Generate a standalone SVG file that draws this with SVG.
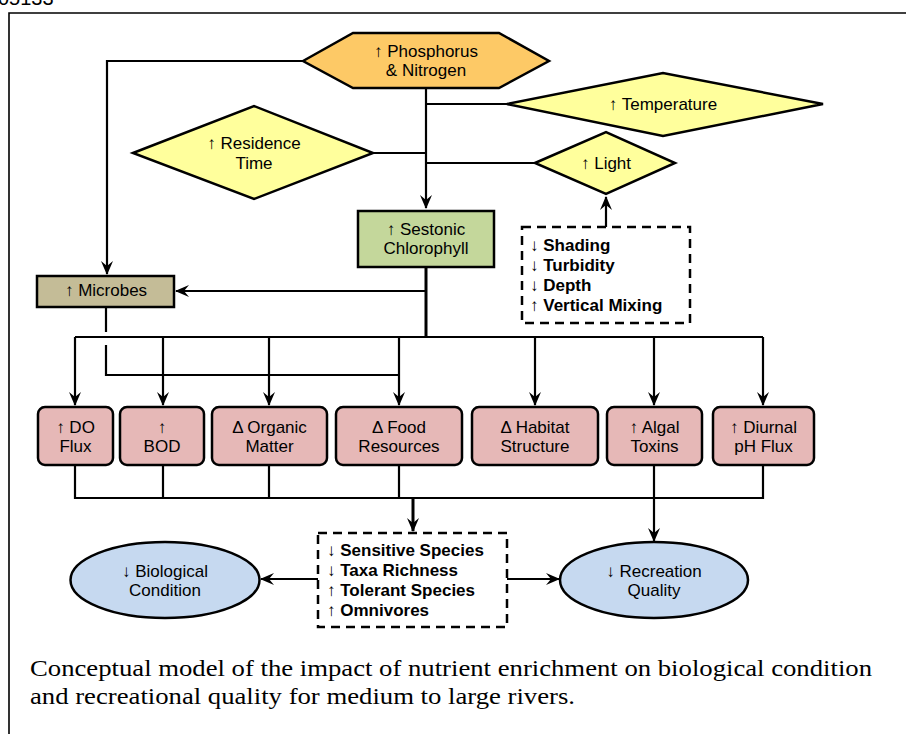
<svg xmlns="http://www.w3.org/2000/svg" width="906" height="734" viewBox="0 0 906 734">
<style>
.t{font-family:"Liberation Sans",Arial,sans-serif;font-size:17px;fill:#000;text-anchor:middle}
.b{font-family:"Liberation Sans",Arial,sans-serif;font-size:17px;fill:#000}
.bw{font-weight:bold}
.ln{fill:none;stroke:#000;stroke-width:2.2}
.thk{fill:none;stroke:#000;stroke-width:3}
.shape{stroke:#000;stroke-width:2.5}
.dash{fill:#fff;stroke:#000;stroke-width:2.5;stroke-dasharray:9,6}
.cap{font-family:"Liberation Serif","Times New Roman",serif;font-size:24px;fill:#000}
</style>
<defs>
<marker id="ah" viewBox="0 0 14 12" refX="13" refY="6" markerWidth="14" markerHeight="12" markerUnits="userSpaceOnUse" orient="auto">
<path d="M0,0 L14,6 L0,12 L5,6 Z" fill="#000"/>
</marker>
</defs>
<rect width="906" height="734" fill="#fff"/>
<text x="-2" y="5" style="font-family:'Liberation Sans',Arial,sans-serif;font-size:20px">05133</text>
<path d="M9,734 V13 H906" fill="none" stroke="#000" stroke-width="1.6"/>

<g id="connectors">
<path class="ln" d="M303,61 H107 V274" marker-end="url(#ah)"/>
<path class="ln" d="M426,88 V208" marker-end="url(#ah)"/>
<path class="ln" d="M426,104 H507"/>
<path class="ln" d="M426,163 H535"/>
<path class="ln" d="M373,153 H426"/>
<path class="ln" d="M606,227 V197" marker-end="url(#ah)"/>
<path class="thk" d="M426,267 V338"/>
<path class="ln" d="M426,291 H176" marker-end="url(#ah)"/>
<path class="ln" d="M75,337 H763"/>
<path class="ln" d="M75,337 V405" marker-end="url(#ah)"/>
<path class="ln" d="M163,337 V405" marker-end="url(#ah)"/>
<path class="ln" d="M269,337 V405" marker-end="url(#ah)"/>
<path class="ln" d="M399,337 V405" marker-end="url(#ah)"/>
<path class="ln" d="M535,337 V405" marker-end="url(#ah)"/>
<path class="ln" d="M654,337 V405" marker-end="url(#ah)"/>
<path class="ln" d="M763,337 V405" marker-end="url(#ah)"/>
<path class="ln" d="M106,307 V332 M106,345 V375 H399"/>
<path class="ln" d="M75,465 V498 H763 V465"/>
<path class="ln" d="M163,465 V498 M269,465 V498 M399,465 V498"/>
<path class="thk" d="M413,498 V531" marker-end="url(#ah)"/>
<path class="ln" d="M654,465 V541" marker-end="url(#ah)"/>
<path class="ln" d="M318,579 H261" marker-end="url(#ah)"/>
<path class="ln" d="M507,579 H559" marker-end="url(#ah)"/>
</g>

<g id="nutrients">
<polygon class="shape" fill="#FDC966" points="303,61 353,33 499,33 549,61 499,88 353,88"/>
<text class="t" x="426" y="57">↑ Phosphorus</text>
<text class="t" x="426" y="76">&amp; Nitrogen</text>
</g>
<g id="temperature">
<polygon class="shape" fill="#FFFF9C" points="507,104 663,73 823,104 663,136"/>
<text class="t" x="663" y="110">↑ Temperature</text>
</g>
<g id="light">
<polygon class="shape" fill="#FFFF9C" points="535,163 606,132 675,163 606,194"/>
<text class="t" x="606" y="169">↑ Light</text>
</g>
<g id="residence">
<polygon class="shape" fill="#FFFF9C" points="133,153 254,106 373,153 254,199"/>
<text class="t" x="254" y="149">↑ Residence</text>
<text class="t" x="254" y="169">Time</text>
</g>
<g id="light-factors">
<rect class="dash" x="522" y="227" width="168" height="96"/>
<text class="b" x="530" y="251">↓ <tspan class="bw">Shading</tspan></text>
<text class="b" x="530" y="271">↓ <tspan class="bw">Turbidity</tspan></text>
<text class="b" x="530" y="291">↓ <tspan class="bw">Depth</tspan></text>
<text class="b" x="530" y="311">↑ <tspan class="bw">Vertical Mixing</tspan></text>
</g>
<g id="chlorophyll">
<rect class="shape" fill="#C4D79B" x="358" y="211" width="136" height="56"/>
<text class="t" x="426" y="235">↑ Sestonic</text>
<text class="t" x="426" y="254">Chlorophyll</text>
</g>
<g id="microbes">
<rect class="shape" fill="#C4BC97" x="37" y="276" width="137" height="31"/>
<text class="t" x="106" y="296">↑ Microbes</text>
</g>
<g id="do-flux">
<rect class="shape" fill="#E6B8B7" x="38" y="407" width="75" height="58" rx="7"/>
<text class="t" x="75.5" y="433">↑ DO</text>
<text class="t" x="75.5" y="452">Flux</text>
</g>
<g id="bod">
<rect class="shape" fill="#E6B8B7" x="120" y="407" width="84" height="58" rx="7"/>
<text class="t" x="162" y="433">↑</text>
<text class="t" x="162" y="452">BOD</text>
</g>
<g id="organic">
<rect class="shape" fill="#E6B8B7" x="212" y="407" width="115" height="58" rx="7"/>
<text class="t" x="269.5" y="433">Δ Organic</text>
<text class="t" x="269.5" y="452">Matter</text>
</g>
<g id="food">
<rect class="shape" fill="#E6B8B7" x="336" y="407" width="126" height="58" rx="7"/>
<text class="t" x="399" y="433">Δ Food</text>
<text class="t" x="399" y="452">Resources</text>
</g>
<g id="habitat">
<rect class="shape" fill="#E6B8B7" x="472" y="407" width="126" height="58" rx="7"/>
<text class="t" x="535" y="433">Δ Habitat</text>
<text class="t" x="535" y="452">Structure</text>
</g>
<g id="toxins">
<rect class="shape" fill="#E6B8B7" x="607" y="407" width="95" height="58" rx="7"/>
<text class="t" x="654.5" y="433">↑ Algal</text>
<text class="t" x="654.5" y="452">Toxins</text>
</g>
<g id="ph-flux">
<rect class="shape" fill="#E6B8B7" x="713" y="407" width="101" height="58" rx="7"/>
<text class="t" x="763.5" y="433">↑ Diurnal</text>
<text class="t" x="763.5" y="452">pH Flux</text>
</g>
<g id="community">
<rect class="dash" x="318" y="533" width="189" height="94"/>
<text class="b" x="327" y="556">↓ <tspan class="bw">Sensitive Species</tspan></text>
<text class="b" x="327" y="576">↓ <tspan class="bw">Taxa Richness</tspan></text>
<text class="b" x="327" y="596">↑ <tspan class="bw">Tolerant Species</tspan></text>
<text class="b" x="327" y="616">↑ <tspan class="bw">Omnivores</tspan></text>
</g>
<g id="biological">
<ellipse class="shape" fill="#C6D9F0" cx="165" cy="580" rx="94.5" ry="38"/>
<text class="t" x="165" y="577">↓ Biological</text>
<text class="t" x="165" y="596">Condition</text>
</g>
<g id="recreation">
<ellipse class="shape" fill="#C6D9F0" cx="654" cy="580" rx="94" ry="38"/>
<text class="t" x="654" y="577">↓ Recreation</text>
<text class="t" x="654" y="596">Quality</text>
</g>
<text class="cap" x="30" y="676" textLength="842" lengthAdjust="spacingAndGlyphs">Conceptual model of the impact of nutrient enrichment on biological condition</text>
<text class="cap" x="30" y="704" textLength="545" lengthAdjust="spacingAndGlyphs">and recreational quality for medium to large rivers.</text>
</svg>
